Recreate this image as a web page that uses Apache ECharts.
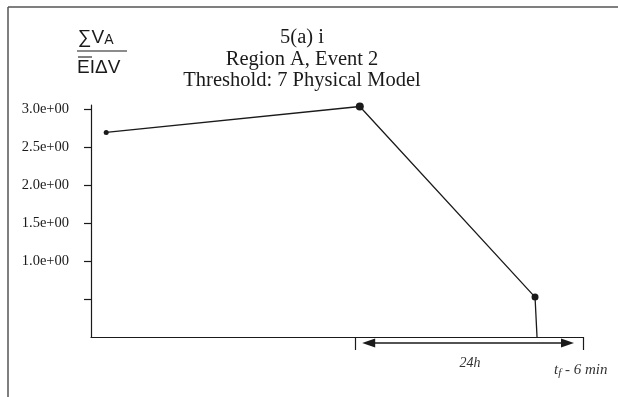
<!DOCTYPE html>
<html>
<head>
<meta charset="utf-8">
<script src="https://cdn.jsdelivr.net/npm/echarts@6/dist/echarts.min.js"></script>
<style>
  html, body { margin: 0; padding: 0; background: #fff; }
  #chart { width: 618px; height: 397px; }
</style>
</head>
<body>
<div id="chart"></div>
<script>
// Time in hours relative to t_f - 6 min, and the normalised sum for each time.
const hours = [-50.2, -23.5, -5.05, -4.84];
const values = [2.69, 3.03, 0.525, 0];
const dotSizes = [5, 8, 7, 0];

const yTickValues = [0.5, 1.0, 1.5, 2.0, 2.5, 3.0];
const yTickLabels = ['', '1.0e+00', '1.5e+00', '2.0e+00', '2.5e+00', '3.0e+00'];
const xTickValues = [-24, 0];
const spanStart = -23.25;
const spanEnd = -0.95;

const titleLines = ['5(a) i', 'Region A, Event 2', 'Threshold: 7 Physical Model'];
const spanLabel = '24h';

const ink = '#1a1a1a';
const serif = '"Liberation Serif", "DejaVu Serif", serif';
const sans = '"Liberation Sans", Arial, sans-serif';

const chart = echarts.init(document.getElementById('chart'), null, { renderer: 'canvas' });

const points = hours.map((h, i) => ({
  value: [h, values[i]],
  symbolSize: dotSizes[i],
  symbol: dotSizes[i] > 0 ? 'circle' : 'none'
}));

chart.setOption({
  animation: false,
  backgroundColor: '#fff',
  grid: { left: 91, right: 35, top: 105, bottom: 60, containLabel: false },
  xAxis: {
    type: 'value',
    min: -51.8,
    max: 0,
    axisLine: { show: true, onZero: false, lineStyle: { color: ink, width: 1.2 } },
    axisTick: { show: true, customValues: xTickValues, length: 13, inside: false,
      lineStyle: { color: ink, width: 1.2 } },
    axisLabel: { show: false },
    splitLine: { show: false }
  },
  yAxis: {
    type: 'value',
    min: 0,
    max: 3.05,
    position: 'left',
    axisLine: { show: true, onZero: false, lineStyle: { color: ink, width: 1.2 } },
    axisTick: { show: true, customValues: yTickValues, length: 7,
      lineStyle: { color: ink, width: 1.2 } },
    axisLabel: {
      customValues: yTickValues,
      formatter: v => yTickLabels[yTickValues.findIndex(t => Math.abs(t - v) < 1e-6)] || '',
      margin: 22,
      color: ink,
      fontFamily: serif,
      fontSize: 14.5
    },
    splitLine: { show: false }
  },
  series: [{
    type: 'line',
    data: points,
    clip: false,
    lineStyle: { color: ink, width: 1.3 },
    itemStyle: { color: ink },
    showSymbol: true
  }]
});

// Fixed decorations plus the span arrow, which is placed through the axis scale.
function drawGraphics() {
  const a = chart.convertToPixel({ gridIndex: 0 }, [spanStart, 0]);
  const b = chart.convertToPixel({ gridIndex: 0 }, [spanEnd, 0]);
  const y = a[1] + 6;
  const head = 13, half = 4.5;
  const titleFont = '20.5px ' + serif;
  chart.setOption({
    graphic: [
      // outer frame: top and left edges
      { id: 'frameTop', type: 'line', shape: { x1: 8, y1: 7, x2: 618, y2: 7 }, style: { stroke: '#555', lineWidth: 1.5 } },
      { id: 'frameLeft', type: 'line', shape: { x1: 8, y1: 7, x2: 8, y2: 397 }, style: { stroke: '#555', lineWidth: 1.5 } },
      // title block
      { id: 't0', type: 'text', x: 302, y: 38, style: { text: titleLines[0], font: titleFont, fill: ink, textAlign: 'center', textVerticalAlign: 'middle' } },
      { id: 't1', type: 'text', x: 302, y: 60, style: { text: titleLines[1], font: titleFont, fill: ink, textAlign: 'center', textVerticalAlign: 'middle' } },
      { id: 't2', type: 'text', x: 302, y: 81, style: { text: titleLines[2], font: titleFont, fill: ink, textAlign: 'center', textVerticalAlign: 'middle' } },
      // y-axis quantity as a fraction
      { id: 'num', type: 'text', x: 78, y: 38, style: {
        text: '{s|∑V}{a|A}',
        rich: { s: { font: '19px ' + sans, fill: ink }, a: { font: '14px ' + sans, fill: ink, padding: [5, 0, 0, 0] } },
        textVerticalAlign: 'middle' } },
      { id: 'bar', type: 'line', shape: { x1: 77, y1: 51, x2: 127, y2: 51 }, style: { stroke: ink, lineWidth: 1.1 } },
      { id: 'den', type: 'text', x: 77, y: 68, style: { text: 'EIΔV', font: '19px ' + sans, fill: ink, textVerticalAlign: 'middle' } },
      { id: 'over', type: 'line', shape: { x1: 78, y1: 57, x2: 92, y2: 57 }, style: { stroke: ink, lineWidth: 1.1 } },
      // span arrow
      { id: 'spanLine', type: 'line', shape: { x1: a[0] + head - 1, y1: y, x2: b[0] - head + 1, y2: y }, style: { stroke: ink, lineWidth: 1.4 } },
      { id: 'headL', type: 'polygon', shape: { points: [[a[0], y], [a[0] + head, y - half], [a[0] + head, y + half]] }, style: { fill: ink } },
      { id: 'headR', type: 'polygon', shape: { points: [[b[0], y], [b[0] - head, y - half], [b[0] - head, y + half]] }, style: { fill: ink } },
      { id: 'spanText', type: 'text', x: (a[0] + b[0]) / 2 + 2, y: y + 20, style: { text: spanLabel, font: 'italic 14px ' + serif, fill: '#333', textAlign: 'center', textVerticalAlign: 'middle' } },
      { id: 'endText', type: 'text', x: b[0] - 20, y: y + 27, style: {
        text: '{t|t}{f|f}{t| - 6 min}',
        rich: { t: { font: 'italic 15px ' + serif, fill: '#333' }, f: { font: 'italic 11px ' + serif, fill: '#333', padding: [6, 0, 0, 0] } },
        textVerticalAlign: 'middle' } }
    ]
  });
}
drawGraphics();
</script>
</body>
</html>
